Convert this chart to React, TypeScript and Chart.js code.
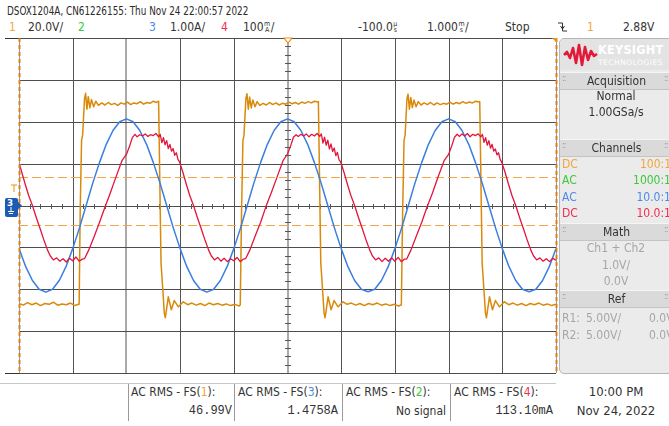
import React, { useEffect, useRef } from "react";
import { Chart, registerables } from "chart.js";
Chart.register(...registerables);

// ---- axes (divisions: 1.000 ms/div horizontally, 8 vertical divisions) ----
const X_MIN = -5;
const X_MAX = 5;
const Y_MIN = -4;
const Y_MAX = 4;
const gridX = [-4, -3, -2, -1, 0, 1, 2, 3, 4];
const gridY = [-4, -3, -2, -1, 0, 1, 2, 3, 4];
const lightGridX = [-3, 0];
const edgeX = [-5, 5];
const refLevels = [0.68, -0.47];

// ---- channel 3 (blue, current) ----
const blueT = [-5, -4.875, -4.75, -4.625, -4.5, -4.375, -4.25, -4.125, -4, -3.875, -3.75, -3.625, -3.5, -3.375, -3.25, -3.125, -3, -2.875, -2.75, -2.625, -2.5, -2.375, -2.25, -2.125, -2, -1.875, -1.75, -1.625, -1.5, -1.375, -1.25, -1.125, -1, -0.875, -0.75, -0.625, -0.5, -0.375, -0.25, -0.125, 0, 0.125, 0.25, 0.375, 0.5, 0.625, 0.75, 0.875, 1, 1.125, 1.25, 1.375, 1.5, 1.625, 1.75, 1.875, 2, 2.125, 2.25, 2.375, 2.5, 2.625, 2.75, 2.875, 3, 3.125, 3.25, 3.375, 3.5, 3.625, 3.75, 3.875, 4, 4.125, 4.25, 4.375, 4.5, 4.625, 4.75, 4.875, 5];
const blueV = [-1.03, -1.46, -1.79, -2.0, -2.07, -2.0, -1.79, -1.46, -1.03, -0.54, 0, 0.54, 1.03, 1.46, 1.79, 2.0, 2.07,
  2.0, 1.79, 1.46, 1.03, 0.54, 0, -0.54, -1.03, -1.46, -1.79, -2.0, -2.07,
  -2.0, -1.79, -1.46, -1.03, -0.54, 0, 0.54, 1.03, 1.46, 1.79, 2.0, 2.07,
  2.0, 1.79, 1.46, 1.03, 0.54, 0, -0.54, -1.03, -1.46, -1.79, -2.0, -2.06,
  -2.0, -1.79, -1.46, -1.03, -0.54, 0, 0.54, 1.03, 1.46, 1.79, 2.0, 2.07,
  2.0, 1.79, 1.46, 1.03, 0.54, 0, -0.54, -1.03, -1.46, -1.79, -2.0, -2.06,
  -2.0, -1.79, -1.46, -1.03];

// ---- channel 4 (red) ----
const redT = [-5.0, -4.95, -4.88, -4.82, -4.75, -4.68, -4.6, -4.53, -4.47, -4.42, -4.36,
  -4.3, -4.24, -4.18, -4.12, -4.06, -4.0, -3.94, -3.88, -3.82,
  -3.78, -3.7, -3.6, -3.5, -3.4, -3.3, -3.2, -3.08, -3.0, -2.94, -2.89,
  -2.84, -2.8, -2.75, -2.7, -2.65, -2.6, -2.55, -2.5, -2.45, -2.4,
  -2.37, -2.34, -2.31, -2.28, -2.25, -2.22, -2.19, -2.16, -2.13, -2.1, -2.07, -2.04, -2.01, -1.95, -1.88, -1.82, -1.75, -1.68, -1.6, -1.53, -1.47, -1.42, -1.36,
  -1.3, -1.24, -1.18, -1.12, -1.06, -1.0, -0.94, -0.88, -0.82,
  -0.78, -0.7, -0.6, -0.5, -0.4, -0.3, -0.2, -0.08, 0.0, 0.06, 0.11,
  0.16, 0.2, 0.25, 0.3, 0.35, 0.4, 0.45, 0.5, 0.55, 0.6,
  0.63, 0.66, 0.69, 0.72, 0.75, 0.78, 0.81, 0.84, 0.87, 0.9, 0.93, 0.96, 0.99, 1.05, 1.12, 1.18, 1.25, 1.32, 1.4, 1.47, 1.53, 1.58, 1.64,
  1.7, 1.76, 1.82, 1.88, 1.94, 2.0, 2.06, 2.12, 2.18,
  2.22, 2.3, 2.4, 2.5, 2.6, 2.7, 2.8, 2.92, 3.0, 3.06, 3.11,
  3.16, 3.2, 3.25, 3.3, 3.35, 3.4, 3.45, 3.5, 3.55, 3.6,
  3.63, 3.66, 3.69, 3.72, 3.75, 3.78, 3.81, 3.84, 3.87, 3.9, 3.93, 3.96, 3.99, 4.05, 4.12, 4.18, 4.25, 4.32, 4.4, 4.47, 4.53, 4.58, 4.64,
  4.7, 4.76, 4.82, 4.88, 4.94, 5.0];
const redV = [1.02, 0.8, 0.49, 0.24, 0.0, -0.28, -0.58, -0.85, -1.06, -1.2, -1.3,
  -1.25, -1.33, -1.27, -1.35, -1.26, -1.32, -1.23, -1.33, -1.28,
  -1.27, -1.06, -0.74, -0.4, -0.04, 0.3, 0.66, 1.08, 1.22, 1.42, 1.62,
  1.7, 1.64, 1.69, 1.66, 1.71, 1.65, 1.69, 1.67, 1.72, 1.64,
  1.7, 1.5, 1.62, 1.45, 1.55, 1.36, 1.46, 1.3, 1.36, 1.2, 1.26, 1.1, 1.04, 0.8, 0.49, 0.24, 0.0, -0.28, -0.58, -0.85, -1.06, -1.2, -1.3,
  -1.24, -1.33, -1.26, -1.34, -1.27, -1.32, -1.24, -1.34, -1.28,
  -1.27, -1.06, -0.72, -0.4, -0.02, 0.31, 0.66, 1.08, 1.23, 1.43, 1.63,
  1.69, 1.65, 1.7, 1.66, 1.71, 1.64, 1.7, 1.66, 1.72, 1.65,
  1.71, 1.49, 1.63, 1.44, 1.56, 1.35, 1.47, 1.29, 1.37, 1.19, 1.27, 1.09, 1.04, 0.8, 0.49, 0.24, 0.0, -0.28, -0.58, -0.85, -1.06, -1.2, -1.3,
  -1.25, -1.34, -1.26, -1.33, -1.25, -1.33, -1.24, -1.34, -1.28,
  -1.28, -1.06, -0.73, -0.4, -0.03, 0.3, 0.67, 1.08, 1.22, 1.43, 1.63,
  1.7, 1.65, 1.71, 1.66, 1.72, 1.64, 1.7, 1.67, 1.71, 1.64,
  1.7, 1.51, 1.62, 1.44, 1.55, 1.37, 1.46, 1.3, 1.35, 1.21, 1.26, 1.1, 1.03, 0.8, 0.49, 0.24, 0.0, -0.28, -0.58, -0.85, -1.06, -1.2, -1.3,
  -1.25, -1.33, -1.27, -1.34, -1.26, -1.31];

// ---- channel 1 (orange, voltage) ----
const orangeT = [-5.0, -4.92, -4.84, -4.76, -4.68, -4.6, -4.52, -4.44, -4.36, -4.28, -4.2, -4.12, -4.04, -3.96, -3.89,
  -3.88, -3.86, -3.835, -3.815, -3.78, -3.76, -3.735, -3.71, -3.68, -3.65, -3.61, -3.57, -3.52,
  -3.46, -3.4, -3.34, -3.28, -3.22, -3.16, -3.1, -3.04, -2.98, -2.92, -2.86, -2.8, -2.74, -2.68, -2.62, -2.56, -2.5, -2.44, -2.41,
  -2.4, -2.355, -2.318, -2.294, -2.275, -2.22, -2.163, -2.108, -2.033, -1.94,
  -1.86, -1.78, -1.7, -1.62, -1.54, -1.46, -1.38, -1.3, -1.22, -1.14, -1.06, -0.98, -0.9, -0.88,
  -0.875, -0.855, -0.83, -0.81, -0.775, -0.755, -0.73, -0.705, -0.675, -0.645, -0.605, -0.565, -0.515,
  -0.455, -0.395, -0.335, -0.275, -0.215, -0.155, -0.095, -0.035, 0.025, 0.085, 0.145, 0.205, 0.265, 0.325, 0.385, 0.445, 0.505, 0.56,
  0.575, 0.62, 0.657, 0.681, 0.7, 0.756, 0.812, 0.867, 0.942, 1.035,
  1.11, 1.19, 1.27, 1.35, 1.43, 1.51, 1.59, 1.67, 1.75, 1.83, 1.91, 1.99, 2.07, 2.12,
  2.125, 2.145, 2.17, 2.19, 2.225, 2.245, 2.27, 2.295, 2.325, 2.355, 2.395, 2.435, 2.485,
  2.545, 2.605, 2.665, 2.725, 2.785, 2.845, 2.905, 2.965, 3.025, 3.085, 3.145, 3.205, 3.265, 3.325, 3.385, 3.445, 3.505, 3.565,
  3.58, 3.625, 3.662, 3.686, 3.705, 3.761, 3.817, 3.872, 3.947, 4.04,
  4.12, 4.2, 4.28, 4.36, 4.44, 4.52, 4.6, 4.68, 4.76, 4.84, 4.92, 5.0];
const orangeV = [-2.34, -2.38, -2.32, -2.37, -2.33, -2.39, -2.34, -2.36, -2.31, -2.38, -2.35, -2.37, -2.33, -2.39, -2.36,
  -2.36, -0.1, 1.55, 1.68, 2.55, 2.68, 2.3, 2.6, 2.33, 2.53, 2.36, 2.49, 2.39,
  2.45, 2.4, 2.46, 2.41, 2.44, 2.39, 2.45, 2.42, 2.47, 2.41, 2.45, 2.43, 2.48, 2.42, 2.46, 2.44, 2.49, 2.46, 2.49,
  2.48, -1.37, -2.09, -2.57, -2.68, -2.18, -2.49, -2.27, -2.42, -2.3,
  -2.37, -2.33, -2.38, -2.34, -2.39, -2.33, -2.37, -2.34, -2.38, -2.35, -2.39, -2.36, -2.4, -2.37,
  -2.37, -0.1, 1.55, 1.68, 2.55, 2.67, 2.3, 2.59, 2.33, 2.52, 2.36, 2.48, 2.39,
  2.44, 2.4, 2.46, 2.41, 2.45, 2.4, 2.44, 2.42, 2.47, 2.43, 2.46, 2.42, 2.47, 2.44, 2.48, 2.45, 2.49, 2.47,
  2.48, -1.37, -2.09, -2.57, -2.68, -2.18, -2.49, -2.27, -2.42, -2.3,
  -2.36, -2.33, -2.38, -2.34, -2.39, -2.34, -2.37, -2.33, -2.38, -2.35, -2.39, -2.36, -2.4, -2.37,
  -2.37, -0.1, 1.55, 1.68, 2.55, 2.66, 2.3, 2.58, 2.34, 2.52, 2.36, 2.48, 2.4,
  2.45, 2.41, 2.46, 2.4, 2.45, 2.41, 2.44, 2.42, 2.47, 2.42, 2.46, 2.43, 2.48, 2.44, 2.47, 2.45, 2.49, 2.47,
  2.48, -1.37, -2.09, -2.57, -2.68, -2.18, -2.49, -2.27, -2.42, -2.3,
  -2.37, -2.33, -2.38, -2.34, -2.39, -2.34, -2.37, -2.33, -2.38, -2.35, -2.39, -2.36];

const C_ORANGE = "#d98a0b";
const C_BLUE = "#3a7fe0";
const C_RED = "#e2163c";
const T_ORANGE = "#f2a53a";
const T_GREEN = "#3cc83c";
const T_BLUE = "#4a8ae8";
const T_RED = "#ee2f4e";

const NARROW = '"Liberation Sans Narrow", "DejaVu Sans Condensed", "Arial Narrow", sans-serif';
const MONO = '"Liberation Mono", "DejaVu Sans Mono", monospace';

const pts = (t: number[], v: number[]) => t.map((x, i) => ({ x, y: v[i] }));

const gridPlugin = {
  id: "scopeGrid",
  beforeDatasetsDraw(chart: any) {
    const { ctx, chartArea: a, scales } = chart;
    const xs = scales.x;
    const ys = scales.y;
    ctx.save();
    const line = (x1: number, y1: number, x2: number, y2: number) => {
      ctx.beginPath();
      ctx.moveTo(x1, y1);
      ctx.lineTo(x2, y2);
      ctx.stroke();
    };
    for (const v of gridX) {
      const px = Math.round(xs.getPixelForValue(v));
      if (lightGridX.includes(v)) {
        ctx.strokeStyle = "#a9a9a9";
        ctx.lineWidth = 2;
        line(px, a.top, px, a.bottom);
      } else {
        ctx.strokeStyle = "#555";
        ctx.lineWidth = 1;
        line(px + 0.5, a.top, px + 0.5, a.bottom);
      }
    }
    ctx.strokeStyle = "#4d4d4d";
    ctx.lineWidth = 1;
    for (const v of gridY) {
      const py = Math.round(ys.getPixelForValue(v)) + 0.5;
      line(a.left, py, a.right, py);
    }
    const cx = Math.round(xs.getPixelForValue(0));
    const cy = Math.round(ys.getPixelForValue(0)) + 0.5;
    ctx.strokeStyle = "#555";
    for (let i = -25; i <= 25; i++) {
      if (i % 5 === 0) continue;
      const px = Math.round(xs.getPixelForValue(i / 5)) + 0.5;
      line(px, cy - 2.5, px, cy + 2.5);
    }
    for (let i = -20; i <= 20; i++) {
      if (i % 5 === 0) continue;
      const py = Math.round(ys.getPixelForValue(i / 5)) + 0.5;
      line(cx - 3, py, cx + 3, py);
    }
    ctx.strokeStyle = "#f4a647";
    ctx.setLineDash([9, 4]);
    for (const v of refLevels) {
      const py = Math.round(ys.getPixelForValue(v)) + 0.5;
      line(a.left, py, a.right, py);
    }
    ctx.restore();
  },
  afterDatasetsDraw(chart: any) {
    const { ctx, chartArea: a, scales } = chart;
    ctx.save();
    for (const v of edgeX) {
      const px = Math.round(scales.x.getPixelForValue(v)) + 0.5;
      ctx.strokeStyle = "#9a9a9a";
      ctx.lineWidth = 1;
      ctx.setLineDash([]);
      ctx.beginPath();
      ctx.moveTo(px, a.top);
      ctx.lineTo(px, a.bottom);
      ctx.stroke();
      ctx.strokeStyle = "#d9801a";
      ctx.lineWidth = 2;
      ctx.setLineDash([4, 3]);
      ctx.beginPath();
      ctx.moveTo(px, a.top);
      ctx.lineTo(px, a.bottom);
      ctx.stroke();
    }
    ctx.restore();
  },
};

type TP = { x: number; y: number; c?: string; s?: number; f?: string; a?: "l" | "r" | "c"; w?: number; b?: boolean; sx?: number; children?: any };
const Txt = ({ x, y, c = "#333", s = 12, f = NARROW, a = "l", w = 120, b, sx, children }: TP) => {
  const st: any = {
    position: "absolute",
    top: y - 8,
    height: 16,
    lineHeight: "16px",
    fontSize: s,
    fontFamily: f,
    color: c,
    whiteSpace: "nowrap",
    fontWeight: b ? "bold" : "normal",
  };
  if (sx) {
    st.transform = `scaleX(${sx})`;
    st.transformOrigin = "left center";
  }
  if (a === "l") st.left = x;
  else if (a === "r") {
    st.left = x - w;
    st.width = w;
    st.textAlign = "right";
  } else {
    st.left = x - w / 2;
    st.width = w;
    st.textAlign = "center";
  }
  return <div style={st}>{children}</div>;
};

const Stack = ({ t, b }: { t: string; b: string }) => (
  <span style={{ display: "inline-block", fontSize: 7, lineHeight: "6px", verticalAlign: "-1px", textAlign: "center", margin: "0 0.5px" }}>
    {t}
    <br />
    {b}
  </span>
);

const Header = ({ y, label }: { y: number; label: string }) => (
  <div style={{ position: "absolute", left: 560, top: y - 8, width: 113, height: 16, background: "#dadada", borderTop: "1px solid #f5f5f5", borderBottom: "1px solid #c4c4c4" }}>
    <div style={{ position: "absolute", left: 2, top: 1, fontSize: 8, color: "#999", fontFamily: "DejaVu Sans", letterSpacing: -1 }}>::</div>
    <div style={{ position: "absolute", left: 0, width: 113, top: 0, lineHeight: "16px", textAlign: "center", fontSize: 12, fontFamily: NARROW, color: "#333" }}>{label}</div>
    <div style={{ position: "absolute", left: 104, top: 1, fontSize: 8, color: "#999", fontFamily: "DejaVu Sans", letterSpacing: -1 }}>::</div>
  </div>
);

export default function App() {
  const ref = useRef<HTMLCanvasElement | null>(null);
  useEffect(() => {
    document.body.style.margin = "0";
    const chart = new Chart(ref.current as HTMLCanvasElement, {
      type: "line",
      data: {
        datasets: [
          { data: pts(redT, redV), borderColor: C_RED, borderWidth: 1.3, pointRadius: 0, tension: 0, borderJoinStyle: "round" },
          { data: pts(blueT, blueV), borderColor: C_BLUE, borderWidth: 1.5, pointRadius: 0, tension: 0, borderJoinStyle: "round" },
          { data: pts(orangeT, orangeV), borderColor: C_ORANGE, borderWidth: 1.5, pointRadius: 0, tension: 0, borderJoinStyle: "round" },
        ] as any,
      },
      options: {
        responsive: false,
        animation: false,
        events: [],
        layout: { padding: { left: 19, right: 4, top: 2, bottom: 3 } },
        scales: {
          x: { type: "linear", min: X_MIN, max: X_MAX, display: false },
          y: { type: "linear", min: Y_MIN, max: Y_MAX, display: false },
        },
        plugins: { legend: { display: false }, tooltip: { enabled: false } },
      } as any,
      plugins: [gridPlugin as any],
    });
    return () => chart.destroy();
  }, []);

  return (
    <div style={{ position: "fixed", left: 0, top: 0, width: 669, height: 426, overflow: "hidden", background: "#fff", fontFamily: NARROW }}>
      <Txt x={7} y={11} c="#2a2a2a" sx={0.82}>DSOX1204A, CN61226155: Thu Nov 24 22:00:57 2022</Txt>
      <Txt x={9} y={27} c={T_ORANGE}>1</Txt>
      <Txt x={28} y={27}>20.0V/</Txt>
      <Txt x={78} y={27} c={T_GREEN}>2</Txt>
      <Txt x={149} y={27} c={T_BLUE}>3</Txt>
      <Txt x={170} y={27}>1.00A/</Txt>
      <Txt x={221} y={27} c={T_RED}>4</Txt>
      <Txt x={243} y={27}>100<Stack t="m" b="A" />/</Txt>
      <Txt x={358} y={27}>-100.0<Stack t="µ" b="s" /></Txt>
      <Txt x={427} y={27}>1.000<Stack t="m" b="s" />/</Txt>
      <Txt x={505} y={27}>Stop</Txt>
      <svg style={{ position: "absolute", left: 556, top: 20 }} width="14" height="14">
        <polyline points="2,3 6.5,3 6.5,11 11,11" fill="none" stroke="#333" strokeWidth="1" />
        <polyline points="4.5,6 6.5,9 8.5,6" fill="none" stroke="#333" strokeWidth="1" />
      </svg>
      <Txt x={587} y={27} c={T_ORANGE}>1</Txt>
      <Txt x={623} y={27}>2.88V</Txt>

      <div style={{ position: "absolute", left: 5, top: 38, width: 551, height: 1, background: "#333" }} />
      <div style={{ position: "absolute", left: 5, top: 373, width: 551, height: 1, background: "#333" }} />

      <canvas ref={ref} width={560} height={340} style={{ position: "absolute", left: 0, top: 36, width: 560, height: 340 }} />

      <svg style={{ position: "absolute", left: 283, top: 37 }} width="10" height="8">
        <polygon points="1,1 9,1 5,6" fill="#fff" stroke="#e8921c" strokeWidth="1.2" />
      </svg>
      <svg style={{ position: "absolute", left: 551, top: 37 }} width="6" height="6">
        <polygon points="1,1 6,1 6,6" fill="#e8921c" />
      </svg>
      <svg style={{ position: "absolute", left: 10, top: 184 }} width="8" height="9">
        <polyline points="1,1 7,1" stroke="#f0a030" strokeWidth="1.2" fill="none" />
        <polyline points="4,1 4,8" stroke="#f0a030" strokeWidth="1.2" fill="none" />
      </svg>
      <div style={{ position: "absolute", left: 5, top: 198, width: 13, height: 19, background: "#1c5bb4", borderRadius: 2 }}>
        <div style={{ position: "absolute", left: 2, top: 0, fontSize: 9, lineHeight: "10px", color: "#fff", fontFamily: "DejaVu Sans", fontWeight: "bold" }}>3</div>
        <svg style={{ position: "absolute", left: 1, top: 9 }} width="10" height="9">
          <polyline points="5,0 5,4" stroke="#fff" strokeWidth="1" />
          <polyline points="2,4.5 8,4.5" stroke="#fff" strokeWidth="1" />
          <polyline points="3,6.5 7,6.5" stroke="#fff" strokeWidth="1" />
        </svg>
      </div>
      <svg style={{ position: "absolute", left: 17, top: 201 }} width="6" height="9">
        <polygon points="0,0 5,4.5 0,9" fill="#1c5bb4" />
      </svg>

      <div style={{ position: "absolute", left: 559, top: 38, width: 114, height: 336, background: "#ebebeb", border: "1px solid #b5b5b5", borderRadius: 5, boxSizing: "border-box" }} />
      <div style={{ position: "absolute", left: 560, top: 39, width: 113, height: 31, background: "#e3e3e3", borderTopLeftRadius: 4 }} />
      <svg style={{ position: "absolute", left: 562, top: 42 }} width="36" height="26">
        <polyline points="2,13 5,10 8,16 11,6 14,21 17,3 20,23 23,5 26,18 29,9 32,14 35,12" fill="none" stroke="#e31937" strokeWidth="2.6" strokeLinejoin="round" />
      </svg>
      <div style={{ position: "absolute", left: 598, top: 43, fontSize: 12.5, lineHeight: "14px", fontWeight: "bold", color: "#fff", fontFamily: "DejaVu Sans Condensed, DejaVu Sans", letterSpacing: 0.3 }}>KEYSIGHT</div>
      <div style={{ position: "absolute", left: 598, top: 58, fontSize: 7.5, lineHeight: "9px", color: "#fff", fontFamily: "DejaVu Sans", letterSpacing: 0.5 }}>TECHNOLOGIES</div>

      <Header y={80} label="Acquisition" />
      <Txt x={616} y={96} a="c" w={110}>Normal</Txt>
      <Txt x={616} y={112} a="c" w={110}>1.00GSa/s</Txt>

      <Header y={147} label="Channels" />
      <Txt x={562} y={164} c={T_ORANGE}>DC</Txt>
      <Txt x={671} y={164} c={T_ORANGE} a="r">100:1</Txt>
      <Txt x={562} y={180} c={T_GREEN}>AC</Txt>
      <Txt x={671} y={180} c={T_GREEN} a="r">1000:1</Txt>
      <Txt x={562} y={197} c={T_BLUE}>AC</Txt>
      <Txt x={671} y={197} c={T_BLUE} a="r">10.0:1</Txt>
      <Txt x={562} y={213} c={T_RED}>DC</Txt>
      <Txt x={671} y={213} c={T_RED} a="r">10.0:1</Txt>

      <Header y={231} label="Math" />
      <Txt x={616} y={248} c="#a6a6a6" a="c" w={110}>Ch1 + Ch2</Txt>
      <Txt x={616} y={265} c="#a6a6a6" a="c" w={110}>1.0V/</Txt>
      <Txt x={616} y={281} c="#a6a6a6" a="c" w={110}>0.0V</Txt>

      <Header y={298} label="Ref" />
      <Txt x={562} y={318} c="#a6a6a6">R1:</Txt>
      <Txt x={586} y={318} c="#a6a6a6">5.00V/</Txt>
      <Txt x={649} y={318} c="#a6a6a6">0.0V</Txt>
      <Txt x={562} y={335} c="#a6a6a6">R2:</Txt>
      <Txt x={586} y={335} c="#a6a6a6">5.00V/</Txt>
      <Txt x={649} y={335} c="#a6a6a6">0.0V</Txt>

      <div style={{ position: "absolute", left: 0, top: 383, width: 556, height: 1, background: "#c8c8c8" }} />
      {[128, 234, 342, 450].map((x) => (
        <div key={x} style={{ position: "absolute", left: x, top: 384, width: 1, height: 37, background: "#9a9a9a" }} />
      ))}
      <Txt x={131} y={392}>AC RMS - FS(<span style={{ color: T_ORANGE }}>1</span>):</Txt>
      <Txt x={232} y={411} f={MONO} a="r">46.99V</Txt>
      <Txt x={238} y={392}>AC RMS - FS(<span style={{ color: T_BLUE }}>3</span>):</Txt>
      <Txt x={338} y={411} f={MONO} a="r">1.4758A</Txt>
      <Txt x={346} y={392}>AC RMS - FS(<span style={{ color: T_GREEN }}>2</span>):</Txt>
      <Txt x={446} y={411} a="r">No signal</Txt>
      <Txt x={454} y={392}>AC RMS - FS(<span style={{ color: T_RED }}>4</span>):</Txt>
      <Txt x={553} y={411} f={MONO} a="r">113.10mA</Txt>
      <Txt x={616} y={392} a="c" w={100} s={13}>10:00 PM</Txt>
      <Txt x={616} y={411} a="c" w={100} s={13}>Nov 24, 2022</Txt>
    </div>
  );
}
